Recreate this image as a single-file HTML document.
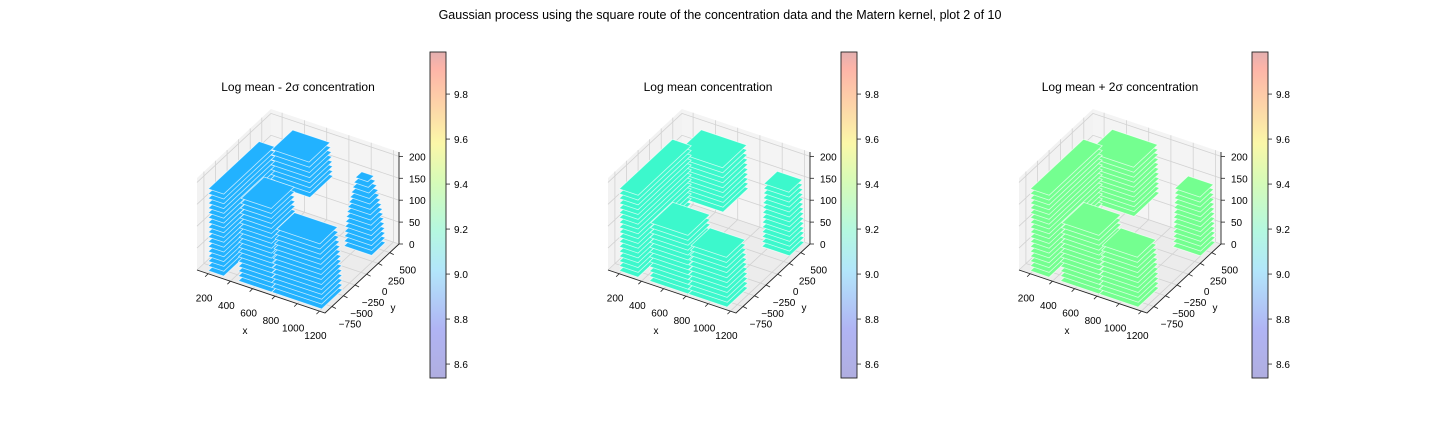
<!DOCTYPE html>
<html><head><meta charset="utf-8"><style>
body{margin:0;background:#fff;}
svg{display:block;font-family:"Liberation Sans",sans-serif;}
</style></head><body>
<svg id="fig" width="1440" height="432" viewBox="0 0 1440 432" xmlns="http://www.w3.org/2000/svg">
<defs>
<linearGradient id="cb" x1="0" y1="1" x2="0" y2="0">
<stop offset="0" stop-color="#b0aee0"/>
<stop offset="0.15" stop-color="#b0b4f4"/>
<stop offset="0.33" stop-color="#b2e6fa"/>
<stop offset="0.45" stop-color="#b4f8e0"/>
<stop offset="0.6" stop-color="#d6fbb8"/>
<stop offset="0.72" stop-color="#fbf7a8"/>
<stop offset="0.85" stop-color="#fdd0a8"/>
<stop offset="0.95" stop-color="#fdb4a8"/>
<stop offset="1" stop-color="#e4b0b0"/>
</linearGradient>
</defs>
<text x="720" y="19" text-anchor="middle" font-size="12.5">Gaussian process using the square route of the concentration data and the Matern kernel, plot 2 of 10</text>
<g id="root"></g>
</svg>
<script>
// axis tick data
const xTicks=[200,400,600,800,1000,1200];
const yTicks=[-750,-500,-250,0,250,500];
const zTicks=[0,50,100,150,200];
const cbTicks=[8.6,8.8,9.0,9.2,9.4,9.6,9.8];
const panelTitles=["Log mean - 2σ concentration","Log mean concentration","Log mean + 2σ concentration"];
const panelColors=["#22b2ff","#3cf8cc","#74ff90"];
// blob footprints per panel: [x0, x1, y0, y1, zBottom, zTop, taper]
const blobs1=[
 [350,720,50,550,125,205,0.1],
 [180,320,-850,250,0,195,0],
 [900,1150,350,650,0,160,0.6],
 [450,750,-850,-300,0,190,0.1],
 [750,1200,-850,-400,0,150,0.15]
];
const blobs2=[
 [330,760,0,550,100,205,0.05],
 [180,350,-850,300,0,190,0],
 [950,1200,380,700,0,145,0.1],
 [450,800,-850,-350,0,140,0.05],
 [800,1150,-850,-400,0,115,0.1]
];
const blobs3=[
 [330,760,0,550,90,205,0.05],
 [180,350,-850,300,0,190,0],
 [950,1200,380,700,0,140,0.1],
 [450,800,-850,-350,0,135,0.05],
 [800,1150,-850,-400,0,110,0.1]
];
const allBlobs=[blobs1,blobs2,blobs3];
const cbMin=8.538, cbMax=9.987;

const NS="http://www.w3.org/2000/svg";
const root=document.getElementById('root');
function mk(tag,attrs,parent){const e=document.createElementNS(NS,tag);for(const k in attrs)e.setAttribute(k,attrs[k]);(parent||root).appendChild(e);return e;}
const XR=[100,1250],YR=[-900,700],ZR=[0,210];
function proj(dx,x,y,z){
 const u=(x-XR[0])/(XR[1]-XR[0]),v=(y-YR[0])/(YR[1]-YR[0]),w=(z-ZR[0])/(ZR[1]-ZR[0]);
 return [197+dx+128*u+74*v, 270+43*u-69*v-92*w];
}
function poly(pts){return pts.map(p=>p[0].toFixed(1)+','+p[1].toFixed(1)).join(' ');}
const offsets=[0,411,822];
const titleX=[298,708,1120];
offsets.forEach((dx,pi)=>{
 const g=mk('g',{});
 
 
 const P=(x,y,z)=>proj(dx,x,y,z);
 const t=mk('text',{x:titleX[pi],y:91,'text-anchor':'middle','font-size':12},g);
 t.textContent=panelTitles[pi];
 
 
 const floor=mk('polygon',{points:poly([P(XR[0],YR[0],0),P(XR[1],YR[0],0),P(XR[1],YR[1],0),P(XR[0],YR[1],0)]),fill:'#ececec'},g);
 
 const lw=mk('polygon',{points:poly([P(XR[0],YR[0],0),P(XR[0],YR[1],0),P(XR[0],YR[1],ZR[1]),P(XR[0],YR[0],ZR[1])]),fill:'#f2f2f2'},g);
 
 const bw=mk('polygon',{points:poly([P(XR[0],YR[1],0),P(XR[1],YR[1],0),P(XR[1],YR[1],ZR[1]),P(XR[0],YR[1],ZR[1])]),fill:'#f4f4f4'},g);
 
 const gs={stroke:'#d2d2d2','stroke-width':0.8,fill:'none'};
 xTicks.forEach(x=>{mk('polyline',Object.assign({points:poly([P(x,YR[0],0),P(x,YR[1],0),P(x,YR[1],ZR[1])])},gs),g);});
 yTicks.forEach(y=>{mk('polyline',Object.assign({points:poly([P(XR[1],y,0),P(XR[0],y,0),P(XR[0],y,ZR[1])])},gs),g);});
 zTicks.forEach(z=>{mk('polyline',Object.assign({points:poly([P(XR[0],YR[0],z),P(XR[0],YR[1],z),P(XR[1],YR[1],z)])},gs),g);});
 mk('polyline',{points:poly([P(XR[0],YR[0],0),P(XR[1],YR[0],0),P(XR[1],YR[1],0),P(XR[1],YR[1],ZR[1])]),stroke:'#222','stroke-width':0.9,fill:'none'},g);
 xTicks.forEach(x=>{const a=P(x,YR[0],0);mk('line',{x1:a[0],y1:a[1],x2:a[0]-3,y2:a[1]+3,stroke:'#222','stroke-width':0.8},g);
  const l=mk('text',{x:a[0]-4,y:a[1]+28,'text-anchor':'middle','font-size':10},g);l.textContent=x;
  });
 yTicks.forEach(y=>{const a=P(XR[1],y,0);mk('line',{x1:a[0],y1:a[1],x2:a[0]+4,y2:a[1]+2,stroke:'#222','stroke-width':0.8},g);
  const l=mk('text',{x:a[0]+18,y:a[1]+21,'text-anchor':'middle','font-size':10},g);l.textContent=String(y).replace('-','−');
  });
 zTicks.forEach(z=>{const a=P(XR[1],YR[1],z);mk('line',{x1:a[0],y1:a[1],x2:a[0]+4,y2:a[1],stroke:'#222','stroke-width':0.8},g);
  const l=mk('text',{x:a[0]+10,y:a[1]+4,'font-size':10},g);l.textContent=z;
  });
 const xl=mk('text',{x:245+dx,y:334,'text-anchor':'middle','font-size':10},g);xl.textContent='x';
 
 const yl=mk('text',{x:393+dx,y:311,'text-anchor':'middle','font-size':10},g);yl.textContent='y';
 
 const sg=mk('g',{fill:panelColors[pi],stroke:'#ffffff','stroke-width':0.8,'stroke-opacity':0.7,'stroke-linejoin':'round'},g);
 
 allBlobs[pi].forEach(b=>{
  const [x0,x1,y0,y1,zb,zt,tp]=b;
  const cx=(x0+x1)/2, cy=(y0+y1)/2;
  for(let z=zb;z<=zt;z+=11){
   const f=(z-zb)/Math.max(1,zt-zb);
   const s=1-tp*f*f;
   const hx=(x1-x0)/2*s, hy=(y1-y0)/2*s;
   const pts=[P(cx-hx,cy-hy,z),P(cx+hx,cy-hy,z),P(cx+hx,cy+hy,z),P(cx-hx,cy+hy,z)];
   const pl=mk('polygon',{points:poly(pts)},sg);
   
   
  }
 });
 const cx=430+dx, top=52, bot=378;
 const cb=mk('rect',{x:cx,y:top,width:16,height:bot-top,fill:'url(#cb)',stroke:'#222','stroke-width':0.9},g);
 
 cbTicks.forEach(v=>{const y=bot-(v-cbMin)/(cbMax-cbMin)*(bot-top);
  mk('line',{x1:cx+16,y1:y,x2:cx+20,y2:y,stroke:'#222','stroke-width':0.8},g);
  const l=mk('text',{x:cx+24,y:y+4,'font-size':10},g);l.textContent=v.toFixed(1);
  });
});
</script>
</body></html>
